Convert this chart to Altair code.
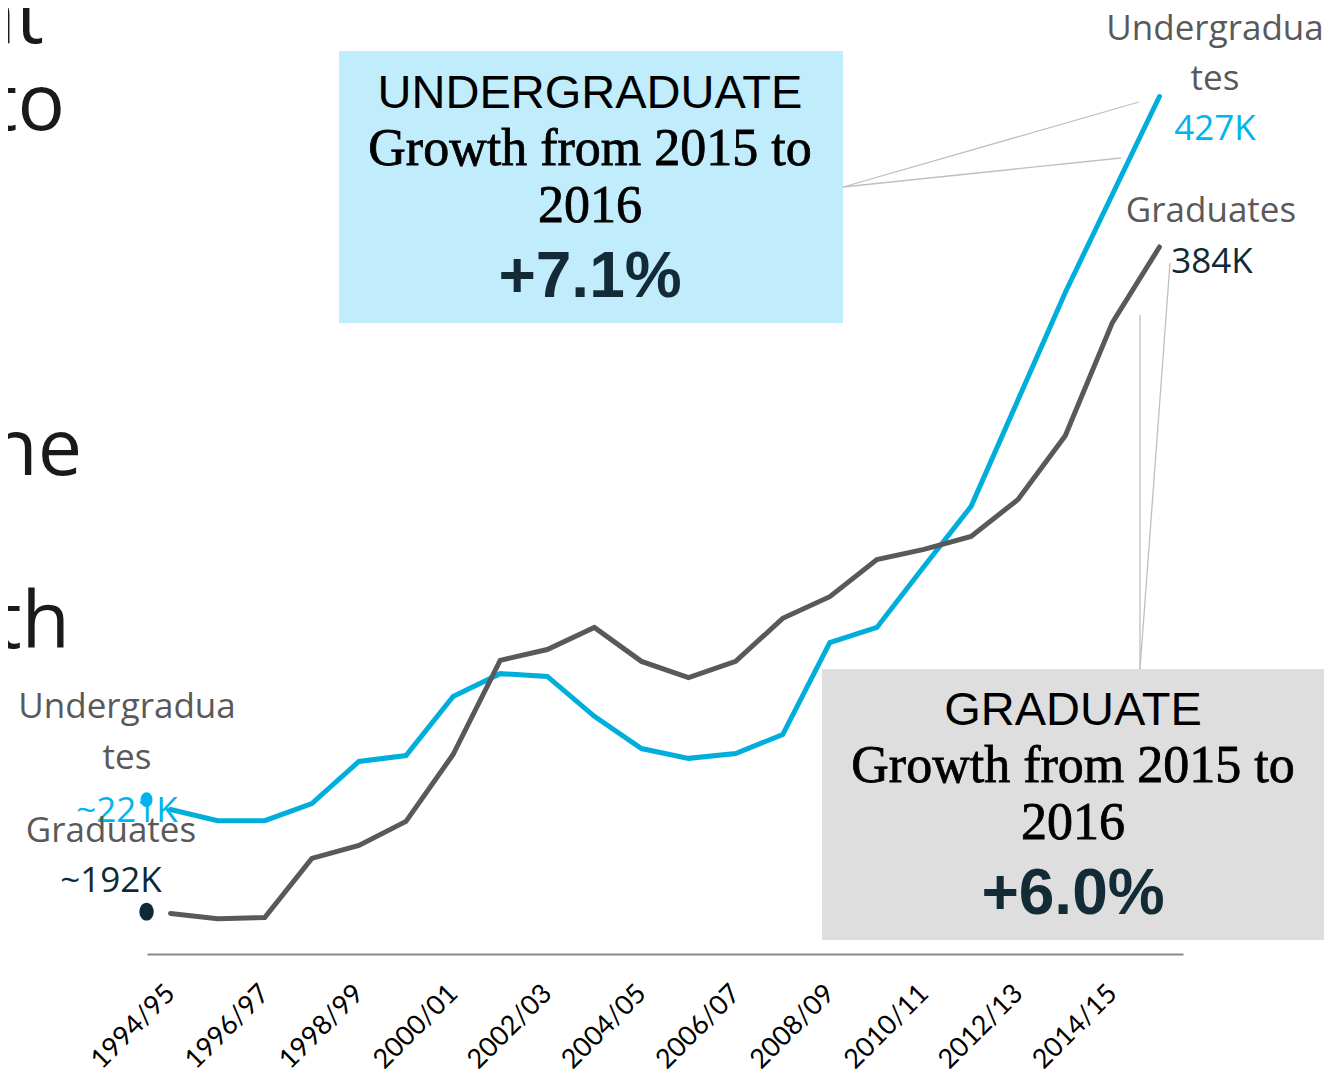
import altair as alt
import pandas as pd

# ---------------- data ----------------
years = ["1994/95", "1995/96", "1996/97", "1997/98", "1998/99", "1999/00",
         "2000/01", "2001/02", "2002/03", "2003/04", "2004/05", "2005/06",
         "2006/07", "2007/08", "2008/09", "2009/10", "2010/11", "2011/12",
         "2012/13", "2013/14", "2014/15", "2015/16"]
undergrad = [223.3, 220.1, 220.1, 225.0, 237.0, 238.7, 255.6, 262.1, 261.3,
             249.9, 240.7, 237.9, 239.3, 244.7, 271.0, 275.3, 292.7, 309.9,
             340.4, 371.0, 399.0, 427.0]
graduate = [193.6, 192.1, 192.4, 209.3, 213.0, 219.9, 239.0, 265.9, 269.0,
            275.3, 265.6, 261.0, 265.6, 277.9, 284.1, 294.7, 297.6, 301.3,
            311.9, 330.1, 362.4, 384.0]
start_marker_values = [226.1, 194.1]          # undergrad, graduate start dots
axis_label_years = years[::2]

slide_fragments = ["at", "to", "ne", "th"]
ug_box_lines = ["UNDERGRADUATE", "Growth from 2015 to", "2016", "+7.1%"]
gr_box_lines = ["GRADUATE", "Growth from 2015 to", "2016", "+6.0%"]
end_labels = ["Undergradua", "tes", "427K", "Graduates", "384K"]
start_labels = ["Undergradua", "tes", "~221K", "Graduates", "~192K"]

BLUE = "#00aedb"
BLUE_TXT = "#00b4ee"
GRAY = "#595959"
NAVY = "#0f2a36"

df_ug = pd.DataFrame({"year": years, "value": undergrad})
df_gr = pd.DataFrame({"year": years, "value": graduate})

xscale = alt.Scale(type="point", domain=years, padding=0.5)
yscale = alt.Scale(domain=[182, 450], nice=False, zero=False)

x_axis = alt.Axis(values=axis_label_years, labelAngle=-45, labelAlign="right",
                  labelBaseline="middle", labelFont="Lato", labelFontSize=27,
                  labelColor="#000000", labelPadding=35, ticks=False,
                  domainColor="#898989", domainWidth=2, grid=False,
                  title=None, labelOverlap=False, labelFlush=False,
                  labelBound=False)


def xenc():
    return alt.X("year:O", scale=xscale, axis=x_axis, sort=years)


def yenc():
    return alt.Y("value:Q", scale=yscale, axis=None)


line_ug = alt.Chart(df_ug).mark_line(color=BLUE, strokeWidth=5, strokeCap="round").encode(
    x=xenc(), y=yenc())
line_gr = alt.Chart(df_gr).mark_line(color=GRAY, strokeWidth=5, strokeCap="round").encode(
    x=xenc(), y=yenc())

ellipse = "M0,-1A0.8,1,0,1,1,0,1A0.8,1,0,1,1,0,-1Z"
dot_ug = alt.Chart(pd.DataFrame({"year": [years[0]], "value": [start_marker_values[0]]})).mark_point(
    shape=ellipse, filled=True, color="#00b4ee", size=220, opacity=1, xOffset=-24
).encode(x=xenc(), y=yenc())
dot_gr = alt.Chart(pd.DataFrame({"year": [years[0]], "value": [start_marker_values[1]]})).mark_point(
    shape=ellipse, filled=True, color=NAVY, size=320, opacity=1, xOffset=-24
).encode(x=xenc(), y=yenc())


def txt(s, x, y, size, color, font, weight="normal", align="center", stroke_w=0):
    kw = {}
    if stroke_w > 0:
        kw = {"stroke": color, "strokeWidth": stroke_w}
    return alt.Chart(pd.DataFrame({"t": [s]})).mark_text(
        font=font, fontSize=size, color=color, fontWeight=weight,
        align=align, baseline="alphabetic", **kw
    ).encode(x=alt.value(x), y=alt.value(y), text="t:N")


def box(x, x2, y, y2, fill):
    return alt.Chart(pd.DataFrame({"a": [0]})).mark_rect(color=fill).encode(
        x=alt.value(x), x2=alt.value(x2), y=alt.value(y), y2=alt.value(y2))


def leader(x, y, x2, y2):
    return alt.Chart(pd.DataFrame({"a": [0]})).mark_rule(color="#bfbfbf", strokeWidth=1.3).encode(
        x=alt.value(x), y=alt.value(y), x2=alt.value(x2), y2=alt.value(y2))


layers = [line_ug]
# callout boxes
layers.append(box(192, 696, 35, 307, "#c1ecfc"))
layers.append(box(675, 1179, 653, 924, "#dedede"))
# leader lines
layers += [leader(696, 171, 992, 86), leader(696, 171, 974, 142),
           leader(993, 653, 993, 299), leader(993, 653, 1023, 247)]
# data lines (graduate drawn above undergraduate)
layers += [line_gr]

# box texts
for lines, cx, y0 in [(ug_box_lines, 443, 92), (gr_box_lines, 926, 709)]:
    layers.append(txt(lines[0], cx, y0, 47, "#000000", "Liberation Sans"))
    layers.append(txt(lines[1], cx, y0 + 57, 52, "#000000", "Liberation Serif", stroke_w=0.8))
    layers.append(txt(lines[2], cx, y0 + 114, 52, "#000000", "Liberation Serif", stroke_w=0.8))
    layers.append(txt(lines[3], cx, y0 + 189, 64, "#132b37", "Liberation Sans", weight="bold"))

# end labels (right)
layers.append(txt(end_labels[0], 1068, 24, 35, GRAY, "Open Sans"))
layers.append(txt(end_labels[1], 1068, 74, 35, GRAY, "Open Sans"))
layers.append(txt(end_labels[2], 1068, 124, 35, BLUE_TXT, "Open Sans"))
layers.append(txt(end_labels[3], 1064, 206, 35, GRAY, "Open Sans"))
layers.append(txt(end_labels[4], 1065, 257, 35, NAVY, "Open Sans"))

# start labels (left)
layers.append(txt(start_labels[0], -20, 702, 35, GRAY, "Open Sans"))
layers.append(txt(start_labels[1], -20, 753, 35, GRAY, "Open Sans"))
layers.append(txt(start_labels[2], -20, 806, 35, BLUE_TXT, "Open Sans"))
layers.append(txt(start_labels[3], -36, 826, 35, GRAY, "Open Sans"))
layers.append(txt(start_labels[4], -36, 876, 35, NAVY, "Open Sans"))

layers += [dot_ug, dot_gr]

# slide body text fragments cut by the left edge
for frag, xe, yb in zip(slide_fragments, [-103, -82, -65, -77], [27, 114, 459, 632]):
    layers.append(txt(frag, xe, yb, 79, "#1a1a1a", "Open Sans", align="right"))

chart = alt.layer(*layers).properties(
    width=1036, height=938,
    autosize=alt.AutoSizeParams(type="none"),
    padding={"left": 139, "top": 8, "right": 141, "bottom": 120},
    background="#ffffff",
).configure_view(stroke=None)

chart.save("out.html", embed_options={"renderer": "svg", "actions": False})
